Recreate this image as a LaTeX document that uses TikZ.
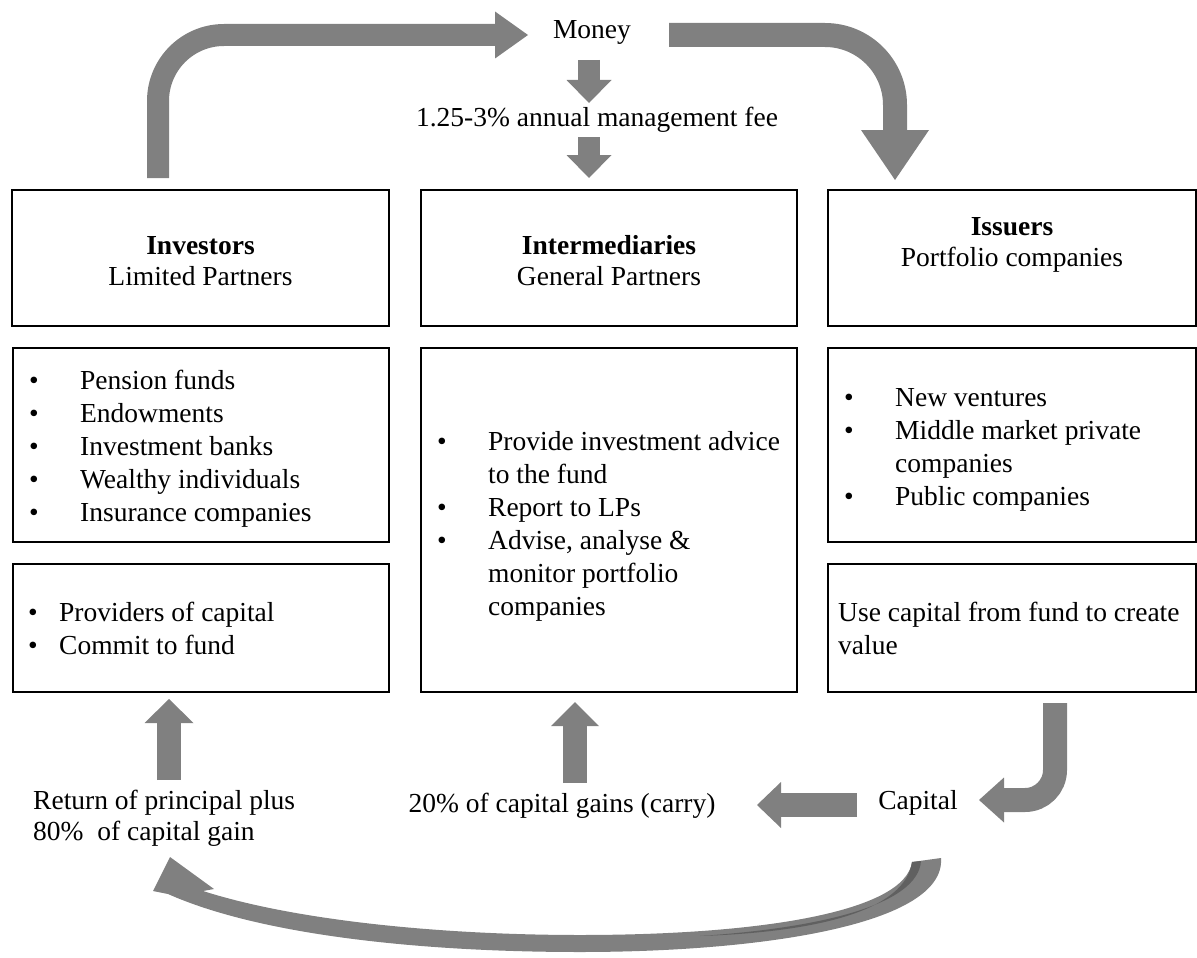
\documentclass[tikz,border=0pt]{standalone}
\usepackage{fontspec}
\setmainfont{Liberation Serif}
\usepackage{xcolor}
\usepackage{tikz}
\usetikzlibrary{arrows.meta, positioning, calc}

\definecolor{arrowgray}{HTML}{808080}
\newcommand{\bitem}[2][51pt]{\makebox[#1][l]{\textbullet}#2}
\newcommand{\bcont}[2][51pt]{\hspace*{#1}#2}

\begin{document}
\begin{tikzpicture}[x=1pt, y=-1pt,
    font=\fontsize{27.5}{33}\selectfont,
    box/.style={draw, line width=2pt, anchor=north west, inner sep=0pt},
    title/.style={align=center, font=\fontsize{27.5}{31}\selectfont},
    items/.style={anchor=west, align=left, inner sep=0pt},
    fat/.style={draw=arrowgray, line width=24pt,
        -{Triangle[length=24pt, width=48pt, line width=0pt]}}]
    \useasboundingbox (0,0) rectangle (1197,958);

    % 1. Các khung
    \node[box, minimum width=377pt, minimum height=136pt] (inv) at (11,189) {};
    \node[box, minimum width=376pt, minimum height=136pt] (int) at (420,189) {};
    \node[box, minimum width=368pt, minimum height=136pt] (iss) at (827,189) {};
    \node[box, minimum width=376pt, minimum height=194pt] (invlist) at (12,347) {};
    \node[box, minimum width=376pt, minimum height=344pt] (intlist) at (420,347) {};
    \node[box, minimum width=368pt, minimum height=194pt] (isslist) at (827,347) {};
    \node[box, minimum width=376pt, minimum height=128pt] (invrole) at (12,563) {};
    \node[box, minimum width=368pt, minimum height=128pt] (issrole) at (827,563) {};

    % 2. Tiêu đề trong khung
    \node[title, yshift=-3pt] (invtitle) at (inv.center) {\textbf{Investors}\\Limited Partners};
    \node[title, yshift=-3pt] (inttitle) at (int.center) {\textbf{Intermediaries}\\General Partners};
    \node[title, yshift=13pt] (isstitle) at (iss.center) {\textbf{Issuers}\\Portfolio companies};

    % 3. Danh sách
    \node[items, yshift=-4pt] (invitems) at ([xshift=17pt]invlist.west)
        {\bitem{Pension funds}\\\bitem{Endowments}\\\bitem{Investment banks}\\
         \bitem{Wealthy individuals}\\\bitem{Insurance companies}};
    \node[items, yshift=-6pt] (intitems) at ([xshift=17pt]intlist.west)
        {\bitem{Provide investment advice}\\\bcont{to the fund}\\\bitem{Report to LPs}\\
         \bitem{Advise, analyse \&}\\\bcont{monitor portfolio}\\\bcont{companies}};
    \node[items, yshift=-5pt] (issitems) at ([xshift=17pt]isslist.west)
        {\bitem{New ventures}\\\bitem{Middle market private}\\\bcont{companies}\\
         \bitem{Public companies}};
    \node[items] (invroles) at ([xshift=16pt]invrole.west)
        {\bitem[31pt]{Providers of capital}\\\bitem[31pt]{Commit to fund}};
    \node[items] (issroles) at ([xshift=11pt]issrole.west)
        {Use capital from fund to create\\value};

    % 4. Nhãn tự do
    \node (money) at (592,32) {Money};
    \node (fee) at (597,120) {1.25-3\% annual management fee};
    \node[items, font=\fontsize{27.5}{31}\selectfont] (ret) at (33,818)
        {Return of principal plus\\80\%\ \ of capital\ gain};
    \node (carry) at (562,806) {20\% of capital gains (carry)};
    \node (capital) at (918,803) {Capital};

    % 5. Các điểm đầu/cuối mũi tên
    \coordinate (lpfoot) at (158,178);
    \coordinate (moneyin) at (528,35);
    \coordinate (moneyout) at (669,35);
    \coordinate (issin) at (895,180);
    \coordinate (feetop) at (589,60);
    \coordinate (feeend) at (589,103);
    \coordinate (gptop) at (589,137);
    \coordinate (gpend) at (589,178);
    \coordinate (retfoot) at (169,780);
    \coordinate (rethead) at (169,699);
    \coordinate (carryfoot) at (575,783);
    \coordinate (carryhead) at (575,702);
    \coordinate (capfoot) at (857,805);
    \coordinate (caphead) at (757,805);
    \coordinate (isstail) at (1055,703);
    \coordinate (isshead) at (979,800);

    % 6. Mũi tên khối màu xám
    \draw[fat, line width=22pt, rounded corners=66pt,
        -{Triangle[length=33pt, width=47pt, line width=0pt]}] (lpfoot) |- (moneyin);
    \draw[fat, rounded corners=70pt,
        -{Triangle[length=50pt, width=68pt, line width=0pt]}] (moneyout) -| (issin);
    \draw[fat, line width=22pt,
        -{Triangle[length=23pt, width=45pt, line width=0pt]}] (feetop) -- (feeend);
    \draw[fat, line width=22pt,
        -{Triangle[length=23pt, width=45pt, line width=0pt]}] (gptop) -- (gpend);
    \draw[fat, -{Triangle[length=24pt, width=49pt, line width=0pt]}] (retfoot) -- (rethead);
    \draw[fat] (carryfoot) -- (carryhead);
    \draw[fat, -{Triangle[length=24pt, width=46pt, line width=0pt]}] (capfoot) -- (caphead);
    \draw[fat, rounded corners=30pt,
        -{Triangle[length=25pt, width=45pt, line width=0pt]}] (isstail) |- (isshead);

    % 7. Mũi tên cong phía dưới
    \fill[arrowgray] (170,857) -- (214,889) -- (203,891)
        .. controls (300,922) and (450,935) .. (580,935)
        .. controls (760,935) and (905,912) .. (912,862)
        -- (941,858)
        .. controls (946,925) and (760,952) .. (580,952)
        .. controls (420,952) and (260,935) .. (168,894)
        -- (153,891) -- cycle;
    \fill[arrowgray!75!black] (912,862) -- (921,861)
        .. controls (918,905) and (820,928) .. (700,936)
        .. controls (820,932) and (905,910) .. (912,862) -- cycle;
\end{tikzpicture}
\end{document}
